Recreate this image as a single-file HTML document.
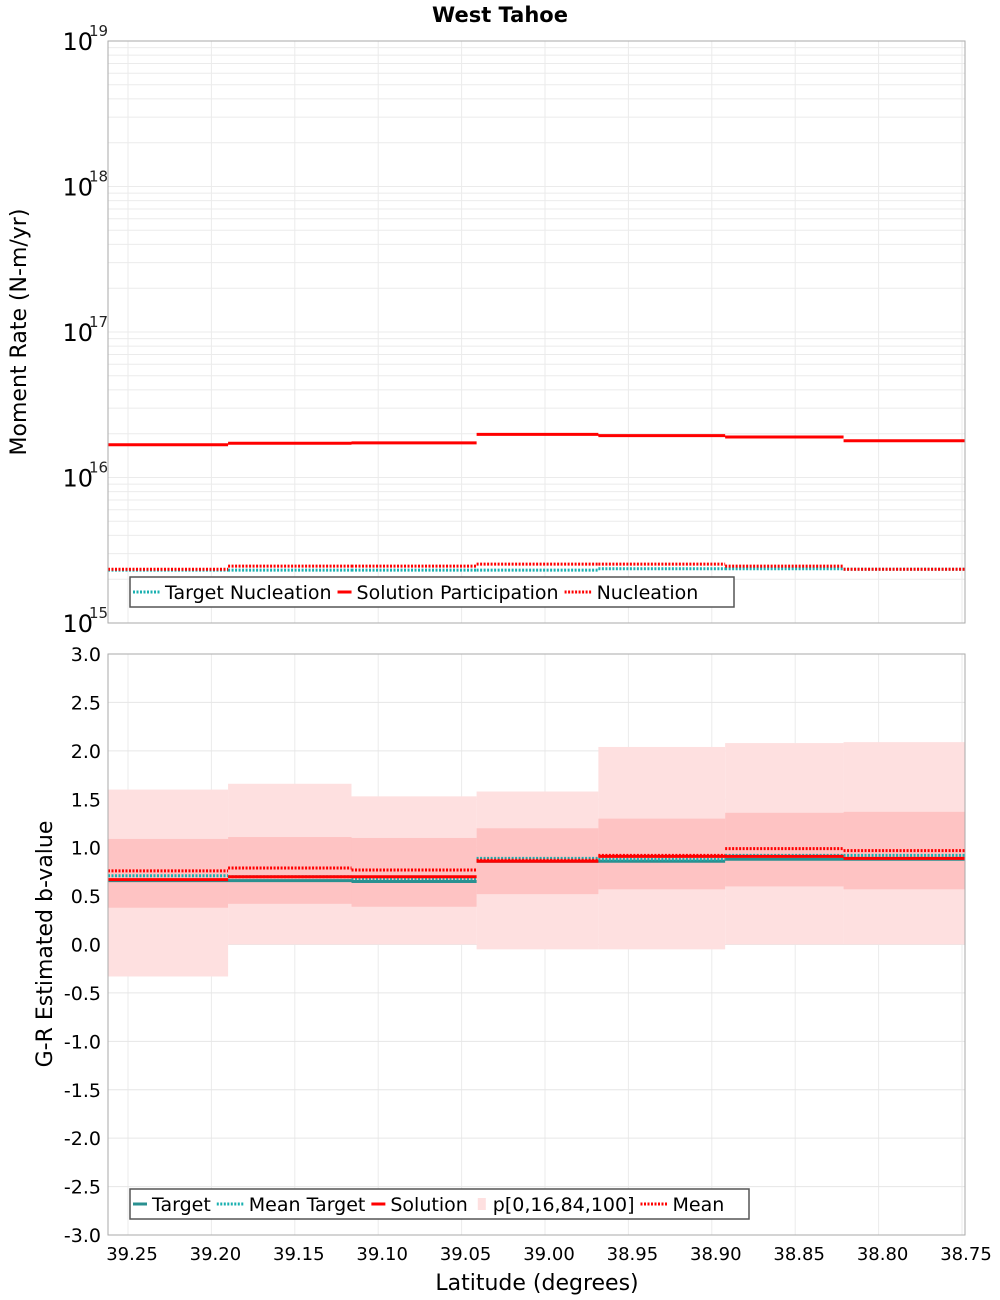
<!DOCTYPE html>
<html><head><meta charset="utf-8"><style>
body{margin:0;background:#fff}
svg{display:block;font-family:"DejaVu Sans","Liberation Sans",sans-serif}
</style></head><body>
<svg id="c" width="1000" height="1300" xmlns="http://www.w3.org/2000/svg"></svg>
<script>
// ---- data ----
const binEdges = [39.262, 39.190, 39.116, 39.041, 38.968, 38.892, 38.821, 38.748];
const xTicks = [39.25, 39.20, 39.15, 39.10, 39.05, 39.00, 38.95, 38.90, 38.85, 38.80, 38.75];
const solutionParticipation = [1.68e16, 1.72e16, 1.73e16, 1.98e16, 1.94e16, 1.90e16, 1.79e16];
const nucleation = [2.34e15, 2.46e15, 2.46e15, 2.54e15, 2.54e15, 2.46e15, 2.34e15];
const targetNucleation = [2.31e15, 2.31e15, 2.31e15, 2.31e15, 2.36e15, 2.36e15, 2.34e15];
const topDecades = [15, 16, 17, 18, 19];
const bTarget = [0.66, 0.66, 0.65, 0.86, 0.86, 0.88, 0.88];
const bMeanTarget = [0.71, 0.70, 0.68, 0.89, 0.88, 0.92, 0.92];
const bSolution = [0.67, 0.70, 0.70, 0.86, 0.91, 0.91, 0.89];
const bMean = [0.76, 0.79, 0.77, 0.87, 0.92, 0.99, 0.97];
const bP0 = [-0.33, 0, 0, -0.05, -0.05, 0, 0];
const bP16 = [0.38, 0.42, 0.39, 0.52, 0.57, 0.60, 0.57];
const bP84 = [1.09, 1.11, 1.10, 1.20, 1.30, 1.36, 1.37];
const bP100 = [1.60, 1.66, 1.53, 1.58, 2.04, 2.08, 2.09];
const bTicks = [3.0, 2.5, 2.0, 1.5, 1.0, 0.5, 0.0, -0.5, -1.0, -1.5, -2.0, -2.5, -3.0];

// ---- layout ----
const L = 108, R = 965, T1 = 41, B1 = 623, T2 = 654, B2 = 1235;
const xs = v => 128 + (39.25 - v) / 0.5 * 834;
const ys1 = v => B1 - (Math.log10(v) - 15) * (B1 - T1) / 4;
const ys2 = v => T2 + (3 - v) * (B2 - T2) / 6;
const svg = document.getElementById('c');
const NS = 'http://www.w3.org/2000/svg';
function mk(tag, attrs, parent) {
  const e = document.createElementNS(NS, tag);
  for (const k in attrs) e.setAttribute(k, attrs[k]);
  (parent || svg).appendChild(e);
  return e;
}
function txt(x, y, s, size, anchor, extra, parent) {
  const t = mk('text', Object.assign({x: x, y: y, 'font-size': size, 'text-anchor': anchor || 'start', fill: '#000'}, extra || {}), parent);
  t.textContent = s;
  return t;
}

const title = txt(500, 22, 'West Tahoe', 21, 'middle', {'font-weight': 'bold'});



// ---- grids ----
const g1 = mk('g', {});


for (let d = 15; d < 19; d++) for (let m = 1; m <= 9; m++) {
  const y = ys1(m * Math.pow(10, d));
  mk('line', {x1: L, x2: R, y1: y, y2: y, stroke: '#ebebeb', 'stroke-width': 1}, g1);
}
xTicks.forEach(v => mk('line', {x1: xs(v), x2: xs(v), y1: T1, y2: B1, stroke: '#ebebeb'}, g1));
xTicks.forEach(v => mk('line', {x1: xs(v), x2: xs(v), y1: T2, y2: B2, stroke: '#ebebeb'}, g1));
bTicks.forEach(v => mk('line', {x1: L, x2: R, y1: ys2(v), y2: ys2(v), stroke: '#e6e6e6'}, g1));

// ---- bands ----
function bands(lo, hi, color, name) {
  for (let i = 0; i < lo.length; i++) {
    const r = mk('rect', {x: xs(binEdges[i]), y: ys2(hi[i]), width: xs(binEdges[i + 1]) - xs(binEdges[i]), height: ys2(lo[i]) - ys2(hi[i]), fill: color});
    
    
  }
}
bands(bP0, bP100, '#fee0e0', 'p0-p100-band');
bands(bP16, bP84, 'rgba(255,160,160,0.45)', 'p16-p84-band');

// ---- step lines (horizontal segments per bin) ----
function step(vals, ysc, color, width, dash, name) {
  let d = '';
  for (let i = 0; i < vals.length; i++) {
    const x0 = xs(binEdges[i]), x1 = xs(binEdges[i + 1]), y = ysc(vals[i]);
    d += 'M' + x0 + ',' + y + 'L' + x1 + ',' + y;
  }
  const p = mk('path', {d: d, fill: 'none', stroke: color, 'stroke-width': width});
  if (dash) p.setAttribute('stroke-dasharray', dash);
  
  
}
step(targetNucleation, ys1, '#1ab0b0', 3, '2,1.5', 'target-nucleation-line');
step(solutionParticipation, ys1, '#ff0000', 3, null, 'solution-participation-line');
step(nucleation, ys1, '#ff0000', 3, '2,1.5', 'nucleation-line');

step(bTarget, ys2, '#2a9090', 3, null, 'target-line');
step(bMeanTarget, ys2, '#1ab0b0', 3, '2,1.5', 'mean-target-line');
step(bSolution, ys2, '#ff0000', 3, null, 'solution-line');
step(bMean, ys2, '#ff0000', 3, '2,1.5', 'mean-line');

// ---- frames ----
const f1 = mk('rect', {x: L, y: T1, width: R - L, height: B1 - T1, fill: 'none', stroke: '#aaa'});


const f2 = mk('rect', {x: L, y: T2, width: R - L, height: B2 - T2, fill: 'none', stroke: '#aaa'});



// ---- tick labels ----
topDecades.forEach(d => {
  const y = ys1(Math.pow(10, d));
  const t = txt(93, y + 9, '10', 24, 'end');
  
  
  const s = txt(89, y - 5, String(d), 15, 'start', {fill: '#222'});
  
  
});
bTicks.forEach(v => {
  const t = txt(101, ys2(v) + 7, v.toFixed(1), 19, 'end');
  
  
});
xTicks.forEach(v => {
  const t = txt(xs(v) + 4, 1260, v.toFixed(2), 18, 'middle');
  
  
});

const yt1 = txt(0, 0, 'Moment Rate (N-m/yr)', 22, 'middle', {transform: 'translate(26,332) rotate(-90)'});


const yt2 = txt(0, 0, 'G-R Estimated b-value', 22, 'middle', {transform: 'translate(52,944) rotate(-90)'});


const xt = txt(537, 1290, 'Latitude (degrees)', 22, 'middle');



// ---- legends ----
function legend(x, y, w, items, name) {
  const g = mk('g', {});
  
  
  mk('rect', {x: x, y: y, width: w, height: 30, fill: '#fff', stroke: '#555', 'stroke-width': 1.5}, g);
  let cx = x + 3;
  items.forEach(it => {
    if (it.swatch === 'box') {
      mk('rect', {x: cx + 4, y: y + 9, width: 8, height: 12, fill: it.color}, g);
      cx += 19;
    } else {
      const sw = it.dash ? 27 : 14;
      const l = mk('line', {x1: cx, x2: cx + sw, y1: y + 15, y2: y + 15, stroke: it.color, 'stroke-width': 3}, g);
      if (it.dash) l.setAttribute('stroke-dasharray', '2,1.5');
      cx += sw + 5;
    }
    const t = txt(cx, y + 22, it.label, 19, 'start', {}, g);
    
    
    let tw = it.w;
    try { tw = t.getComputedTextLength(); } catch (e) {}
    cx += tw + 6;
  });
}
legend(130, 577, 604, [
  {label: 'Target Nucleation', color: '#1ab0b0', dash: true, w: 178},
  {label: 'Solution Participation', color: '#ff0000', w: 215},
  {label: 'Nucleation', color: '#ff0000', dash: true, w: 106}
], 'top-legend');
legend(130, 1189, 619, [
  {label: 'Target', color: '#2a9090', w: 60},
  {label: 'Mean Target', color: '#1ab0b0', dash: true, w: 120},
  {label: 'Solution', color: '#ff0000', w: 82},
  {label: 'p[0,16,84,100]', color: '#fee0e0', swatch: 'box', w: 148},
  {label: 'Mean', color: '#ff0000', dash: true, w: 53}
], 'bottom-legend');
</script>
</body></html>
